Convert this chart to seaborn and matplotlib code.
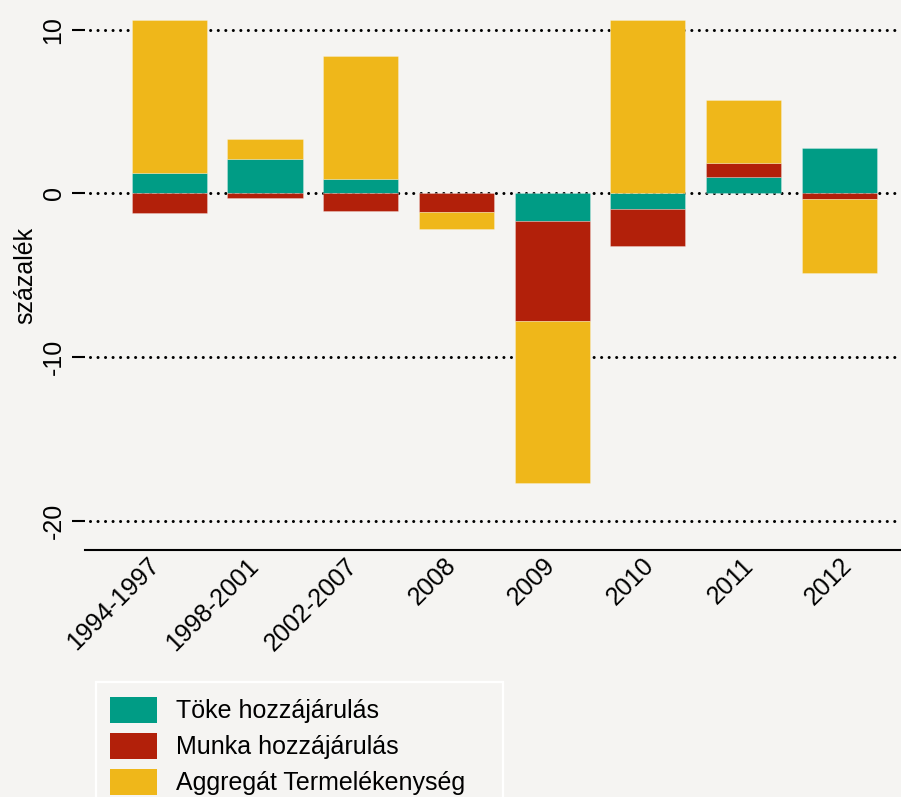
import numpy as np
import pandas as pd
import matplotlib
matplotlib.use("Agg")
import matplotlib.pyplot as plt
from matplotlib.patches import Rectangle, Patch
import seaborn as sns

# ---- data ----
categories = ["1994-1997", "1998-2001", "2002-2007", "2008", "2009", "2010", "2011", "2012"]
toke = [1.27, 2.11, 0.89, 0.00, -1.70, -0.95, 1.01, 2.76]
munka = [-1.21, -0.30, -1.05, -1.11, -6.08, -2.27, 0.87, -0.34]
aggregat = [9.33, 1.20, 7.52, -1.05, -9.93, 10.60, 3.82, -4.50]
series_names = ["Töke hozzájárulás", "Munka hozzájárulás", "Aggregát Termelékenység"]
yticks = [-20, -10, 0, 10]

colors = ["#009C85", "#B2200A", "#EFB71A"]
bg = "#F5F4F2"

plt.rcParams["font.family"] = ["Liberation Sans", "DejaVu Sans"]

W, H = 901, 797
fig = plt.figure(figsize=(W / 100, H / 100), dpi=100, facecolor=bg)
ax = fig.add_axes([85 / W, 1 - 550 / H, 1 - 85 / W, 550 / H])
ax.set_facecolor(bg)

# dotted grid lines behind bars
for t in yticks:
    ax.axhline(t, xmin=5 / 816, xmax=1, color="black", lw=2.2,
               linestyle=(0, (0.01, 2.45)), dash_capstyle="round", zorder=0)

# diverging stacked bars
pos_base = np.zeros(len(categories))
neg_base = np.zeros(len(categories))
for name, vals, col in zip(series_names, [toke, munka, aggregat], colors):
    v = np.array(vals, dtype=float)
    bottoms = np.where(v >= 0, pos_base, neg_base)
    df = pd.DataFrame({"cat": categories, "val": v})
    sns.barplot(data=df, x="cat", y="val", order=categories, color=col,
                saturation=1, width=0.784, bottom=bottoms, errorbar=None,
                edgecolor=(1, 1, 1, 0.3), linewidth=0.6, ax=ax, zorder=2)
    pos_base = pos_base + np.where(v >= 0, v, 0)
    neg_base = neg_base + np.where(v < 0, v, 0)

ax.set_xlim(-0.881, 7.646)
ax.set_ylim(-21.80, 11.83)

# axes styling
for s in ["top", "right", "left"]:
    ax.spines[s].set_visible(False)
ax.spines["bottom"].set_linewidth(1.5)
ax.spines["bottom"].set_color("black")

ax.set_yticks(yticks)
ax.set_yticklabels([str(t) for t in yticks], rotation=90, va="center", fontsize=18)
ax.tick_params(axis="y", length=9.5, width=1.5, pad=4.5, colors="black")

# x labels: anchors spaced slightly wider than bars (as in reference)
label_pos = [(147 + 99 * i - 169.3) / 95.7 for i in range(len(categories))]
ax.set_xticks(label_pos)
ax.set_xticklabels(categories, rotation=45, ha="right", va="top",
                   rotation_mode="anchor", fontsize=18)
ax.tick_params(axis="x", length=0, pad=2.5)

ax.set_xlabel("")
ax.set_ylabel("százalék", fontsize=18, labelpad=4)
ax.yaxis.set_label_coords(-48 / 816, 0.5)

# legend box + legend
rect = Rectangle((96 / W, 1 - 830 / H), (503 - 96) / W, (830 - 682) / H,
                 transform=fig.transFigure, facecolor=bg, edgecolor="white",
                 linewidth=1.6, zorder=5, clip_on=False)
fig.patches.append(rect)
handles = [Patch(facecolor=c, edgecolor="none") for c in colors]
fig.legend(handles, series_names, loc="upper left",
           bbox_to_anchor=(97 / W, 1 - 684 / H), bbox_transform=fig.transFigure,
           frameon=False, fontsize=18, handlelength=1.88, handleheight=1.2,
           handletextpad=0.76, labelspacing=0.39, borderpad=0.52,
           borderaxespad=0)

fig.savefig("out.png", dpi=100, facecolor=bg)
